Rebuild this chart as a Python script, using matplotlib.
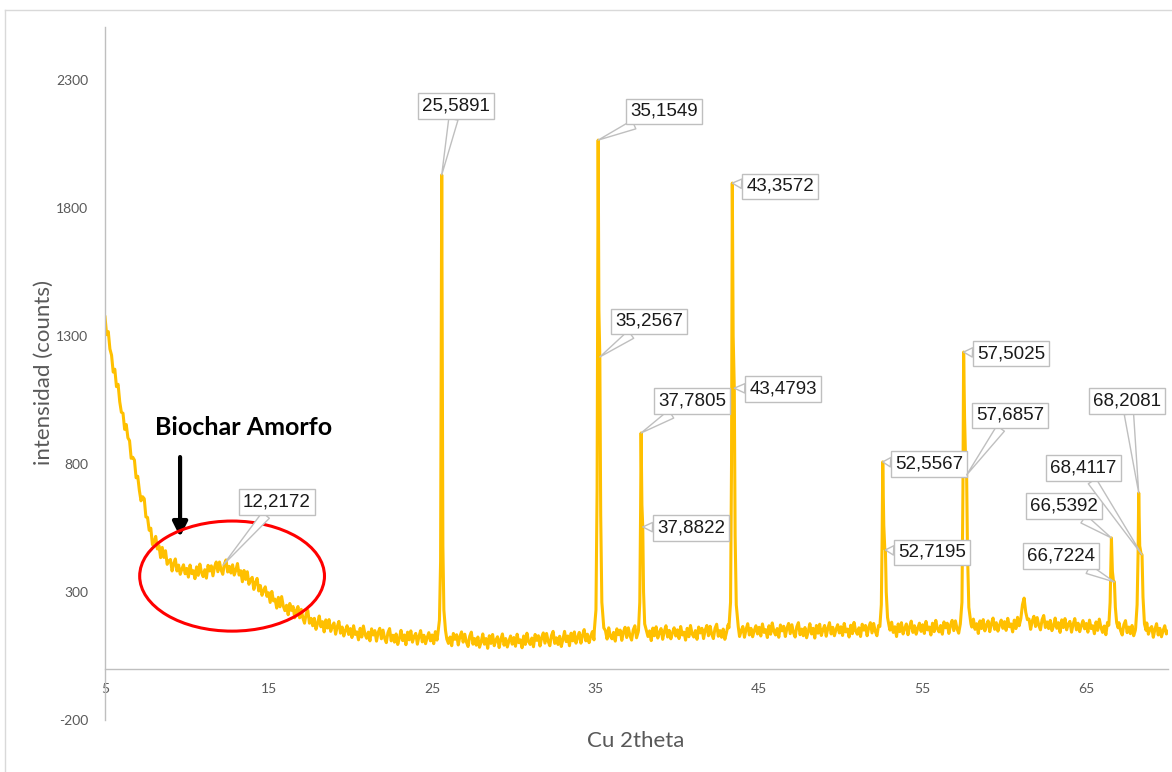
import numpy as np
import matplotlib
matplotlib.use("Agg")
import matplotlib.pyplot as plt
from matplotlib.patches import Ellipse
from matplotlib.lines import Line2D

# XRD trace: background counts every 0.1 deg, one row per degree (5.0 .. 70.0)
background = [
    1374, 1305, 1317, 1249, 1225, 1159, 1170, 1102, 1111, 1043,  # 5
    1002, 998, 935, 954, 902, 891, 822, 826, 815, 746,  # 6
    752, 697, 656, 672, 664, 593, 591, 541, 549, 485,  # 7
    495, 517, 468, 481, 434, 474, 435, 461, 408, 421,  # 8
    427, 382, 410, 429, 382, 405, 369, 390, 406, 371,  # 9
    392, 358, 405, 372, 383, 352, 398, 365, 409, 376,  # 10
    360, 387, 354, 404, 382, 402, 363, 398, 417, 379,  # 11
    417, 386, 369, 409, 425, 378, 400, 374, 406, 366,  # 12
    385, 411, 366, 383, 340, 384, 349, 379, 330, 347,  # 13
    357, 310, 336, 353, 304, 325, 287, 306, 320, 283,  # 14
    297, 259, 302, 265, 272, 237, 279, 242, 282, 245,  # 15
    227, 248, 211, 255, 228, 243, 199, 228, 243, 199,  # 16
    232, 198, 178, 215, 228, 178, 197, 168, 197, 154,  # 17
    177, 206, 164, 184, 144, 191, 159, 192, 146, 166,  # 18
    179, 135, 164, 185, 139, 163, 128, 150, 168, 134,  # 19
    157, 122, 168, 134, 144, 113, 158, 124, 167, 134,  # 20
    119, 143, 109, 156, 132, 149, 108, 141, 158, 117,  # 21
    151, 119, 102, 141, 157, 109, 131, 104, 136, 95,  # 22
    119, 150, 110, 132, 94, 143, 113, 148, 104, 126,  # 23
    138, 96, 127, 149, 105, 131, 98, 122, 141, 109,  # 24
    132, 98, 145, 112, 123, 92, 138, 105, 149, 116,  # 25
    99, 124, 90, 138, 115, 133, 93, 126, 144, 104,  # 26
    135, 104, 87, 127, 143, 96, 118, 92, 124, 84,  # 27
    105, 136, 96, 118, 80, 129, 99, 134, 90, 112,  # 28
    125, 83, 114, 136, 92, 118, 85, 109, 128, 96,  # 29
    122, 88, 135, 102, 113, 82, 128, 95, 139, 106,  # 30
    95, 120, 86, 134, 111, 129, 89, 122, 140, 100,  # 31
    138, 107, 90, 130, 146, 99, 121, 95, 127, 87,  # 32
    115, 146, 106, 128, 90, 139, 109, 144, 100, 122,  # 33
    142, 100, 131, 153, 109, 135, 102, 126, 145, 113,  # 34
    143, 109, 156, 123, 134, 103, 149, 116, 160, 127,  # 35
    117, 142, 108, 156, 133, 151, 111, 144, 162, 122,  # 36
    160, 129, 112, 152, 168, 121, 143, 117, 149, 109,  # 37
    135, 166, 126, 148, 110, 159, 129, 164, 120, 142,  # 38
    157, 115, 146, 168, 124, 150, 117, 141, 160, 128,  # 39
    152, 118, 165, 132, 143, 112, 158, 125, 169, 136,  # 40
    124, 149, 115, 163, 140, 158, 118, 151, 169, 129,  # 41
    166, 135, 118, 158, 174, 127, 149, 123, 155, 115,  # 42
    141, 172, 132, 154, 116, 165, 135, 170, 126, 148,  # 43
    165, 123, 154, 176, 132, 158, 125, 149, 168, 136,  # 44
    162, 128, 175, 142, 153, 122, 168, 135, 179, 146,  # 45
    132, 157, 123, 171, 148, 166, 126, 159, 177, 137,  # 46
    172, 141, 124, 164, 180, 133, 155, 129, 161, 121,  # 47
    145, 176, 136, 158, 120, 169, 139, 174, 130, 152,  # 48
    169, 127, 158, 180, 136, 162, 129, 153, 172, 140,  # 49
    164, 130, 177, 144, 155, 124, 170, 137, 181, 148,  # 50
    135, 160, 126, 174, 151, 169, 129, 162, 180, 140,  # 51
    177, 146, 129, 169, 185, 138, 160, 134, 166, 126,  # 52
    151, 182, 142, 164, 126, 175, 145, 180, 136, 158,  # 53
    175, 133, 164, 186, 142, 168, 135, 159, 178, 146,  # 54
    172, 138, 185, 152, 163, 132, 178, 145, 189, 156,  # 55
    144, 169, 135, 183, 160, 178, 138, 171, 189, 149,  # 56
    187, 156, 139, 179, 195, 148, 170, 144, 176, 136,  # 57
    163, 194, 154, 176, 138, 187, 157, 192, 148, 170,  # 58
    187, 145, 176, 198, 154, 180, 147, 171, 190, 158,  # 59
    184, 150, 197, 164, 175, 144, 190, 157, 201, 168,  # 60
    196, 250, 276, 221, 192, 194, 154, 187, 205, 165,  # 61
    200, 169, 152, 192, 208, 161, 183, 157, 189, 149,  # 62
    167, 198, 158, 180, 142, 191, 161, 196, 152, 174,  # 63
    185, 143, 174, 196, 152, 178, 145, 169, 188, 156,  # 64
    177, 143, 190, 157, 168, 137, 183, 150, 194, 161,  # 65
    142, 167, 133, 181, 158, 176, 136, 169, 187, 147,  # 66
    180, 149, 132, 172, 188, 141, 163, 137, 169, 129,  # 67
    150, 181, 141, 163, 125, 174, 144, 179, 135, 157,  # 68
    165, 123, 154, 176, 132, 158, 125, 149, 168, 136,  # 69
    146,  # 70
]

# sharp reflections (2theta, counts), Ka1 + Ka2 doublets
peak_profiles = [
    [(25.35, 135), (25.45, 190), (25.52, 420), (25.56, 1300), (25.5891, 1929),
     (25.62, 1250), (25.66, 480), (25.72, 230), (25.82, 150)],
    [(34.92, 150), (35.02, 230), (35.09, 700), (35.1549, 2065), (35.20, 1400),
     (35.2567, 1218), (35.31, 600), (35.38, 260), (35.50, 160)],
    [(37.62, 150), (37.70, 260), (37.75, 620), (37.7805, 921), (37.83, 640),
     (37.8822, 554), (37.93, 300), (38.00, 175), (38.10, 150)],
    [(43.15, 160), (43.25, 260), (43.31, 800), (43.3572, 1897), (43.41, 1300),
     (43.4793, 1096), (43.53, 520), (43.60, 250), (43.72, 165)],
    [(52.38, 165), (52.47, 250), (52.52, 520), (52.5567, 808), (52.62, 560),
     (52.68, 470), (52.7195, 464), (52.77, 300), (52.85, 200), (52.95, 165)],
    [(57.30, 175), (57.40, 260), (57.46, 700), (57.5025, 1237), (57.56, 980),
     (57.62, 820), (57.6857, 757), (57.74, 450), (57.82, 240), (57.95, 175)],
    [(66.38, 170), (66.46, 260), (66.51, 420), (66.5392, 511), (66.60, 380),
     (66.66, 345), (66.7224, 339), (66.78, 240), (66.86, 180), (66.95, 160)],
    [(68.02, 160), (68.11, 250), (68.17, 450), (68.2081, 687), (68.27, 480),
     (68.35, 450), (68.4117, 445), (68.47, 280), (68.56, 175), (68.66, 150)],
]

# labelled points
label_2theta = [12.2172, 25.5891, 35.1549, 35.2567, 37.7805, 37.8822, 43.3572, 43.4793,
                52.5567, 52.7195, 57.5025, 57.6857, 66.5392, 66.7224, 68.2081, 68.4117]
label_counts = [405, 1929, 2065, 1218, 921, 554, 1897, 1096,
                808, 464, 1237, 757, 511, 339, 687, 445]

yticks = [-200, 300, 800, 1300, 1800, 2300]
xticks = [5, 15, 25, 35, 45, 55, 65]

# build trace
two_theta = np.round(5.0 + 0.1 * np.arange(len(background)), 1)
x = two_theta
y = np.array(background, dtype=float)
for prof in peak_profiles:
    px_, py_ = zip(*prof)
    keep = (x < px_[0]) | (x > px_[-1])
    x = np.concatenate([x[keep], px_])
    y = np.concatenate([y[keep], py_])
order = np.argsort(x)
x, y = x[order], y[order]

plt.rcParams['font.family'] = ['Lato', 'DejaVu Sans']
plt.rcParams['axes.unicode_minus'] = False

fig = plt.figure(figsize=(11.72, 7.72), dpi=100)
ax = fig.add_axes([0.0896, 0.0674, 0.907, 0.8977])

ax.plot(x, y, color='#FFC000', lw=2.2, zorder=2)

ax.set_xlim(5, 70)
ax.set_ylim(-200, 2507)
ax.set_xticks(xticks)
ax.set_yticks(yticks)
ax.tick_params(length=0, labelsize=10, labelcolor='#595959')
ax.tick_params(axis='x', pad=10)
ax.tick_params(axis='y', pad=12)
for s in ['top', 'right']:
    ax.spines[s].set_visible(False)
ax.spines['bottom'].set_position(('data', 0))
for s in ['left', 'bottom']:
    ax.spines[s].set_color('#bfbfbf')
    ax.spines[s].set_linewidth(1)

fig.text(0.037, 0.518, 'intensidad (counts)', rotation=90, ha='center', va='center',
         fontsize=16, color='#595959')
fig.text(0.542, 0.040, 'Cu 2theta', ha='center', va='center', fontsize=16, color='#595959')

# callout boxes (box centre in data coords)
label_pos = [(15.52, 651), (26.47, 2198), (39.19, 2177), (38.27, 1357), (40.90, 1046),
             (40.84, 550), (46.28, 1885), (46.47, 1093), (55.40, 800), (55.58, 455),
             (60.41, 1230), (60.35, 990), (63.65, 636), (63.47, 440), (67.51, 1046),
             (64.82, 784)]
for xp, yp, (tx, ty) in zip(label_2theta, label_counts, label_pos):
    ax.annotate(f"{xp:.4f}".replace('.', ','), xy=(xp, yp), xytext=(tx, ty),
                ha='center', va='center', fontsize=13.5, family='Liberation Sans',
                color='#1a1a1a', zorder=5,
                bbox=dict(boxstyle='square,pad=0.22', fc='white', ec='#bfbfbf', lw=1),
                arrowprops=dict(arrowstyle='wedge,tail_width=0.5,shrink_factor=0.5',
                                fc='white', ec='#bfbfbf', lw=1, shrinkA=0, shrinkB=0))

# amorphous hump marker
ax.add_patch(Ellipse((12.77, 362), 11.3, 430, fill=False, ec='#FF0000', lw=2.2, zorder=4))
ax.annotate('', xy=(9.59, 515), xytext=(9.59, 827),
            arrowprops=dict(arrowstyle='-|>', color='black', lw=3, mutation_scale=22,
                            shrinkA=0, shrinkB=0))
ax.text(8.06, 944, 'Biochar Amorfo', ha='left', va='center', fontsize=18,
        fontweight='bold', color='black')

# outer frame (left and top edges visible)
fig.add_artist(Line2D([5 / 1172, 5 / 1172], [0, 1 - 10 / 772], transform=fig.transFigure,
                      color='#d9d9d9', lw=1))
fig.add_artist(Line2D([5 / 1172, 1], [1 - 10 / 772, 1 - 10 / 772], transform=fig.transFigure,
                      color='#d9d9d9', lw=1))

fig.savefig('out.png', dpi=100)
